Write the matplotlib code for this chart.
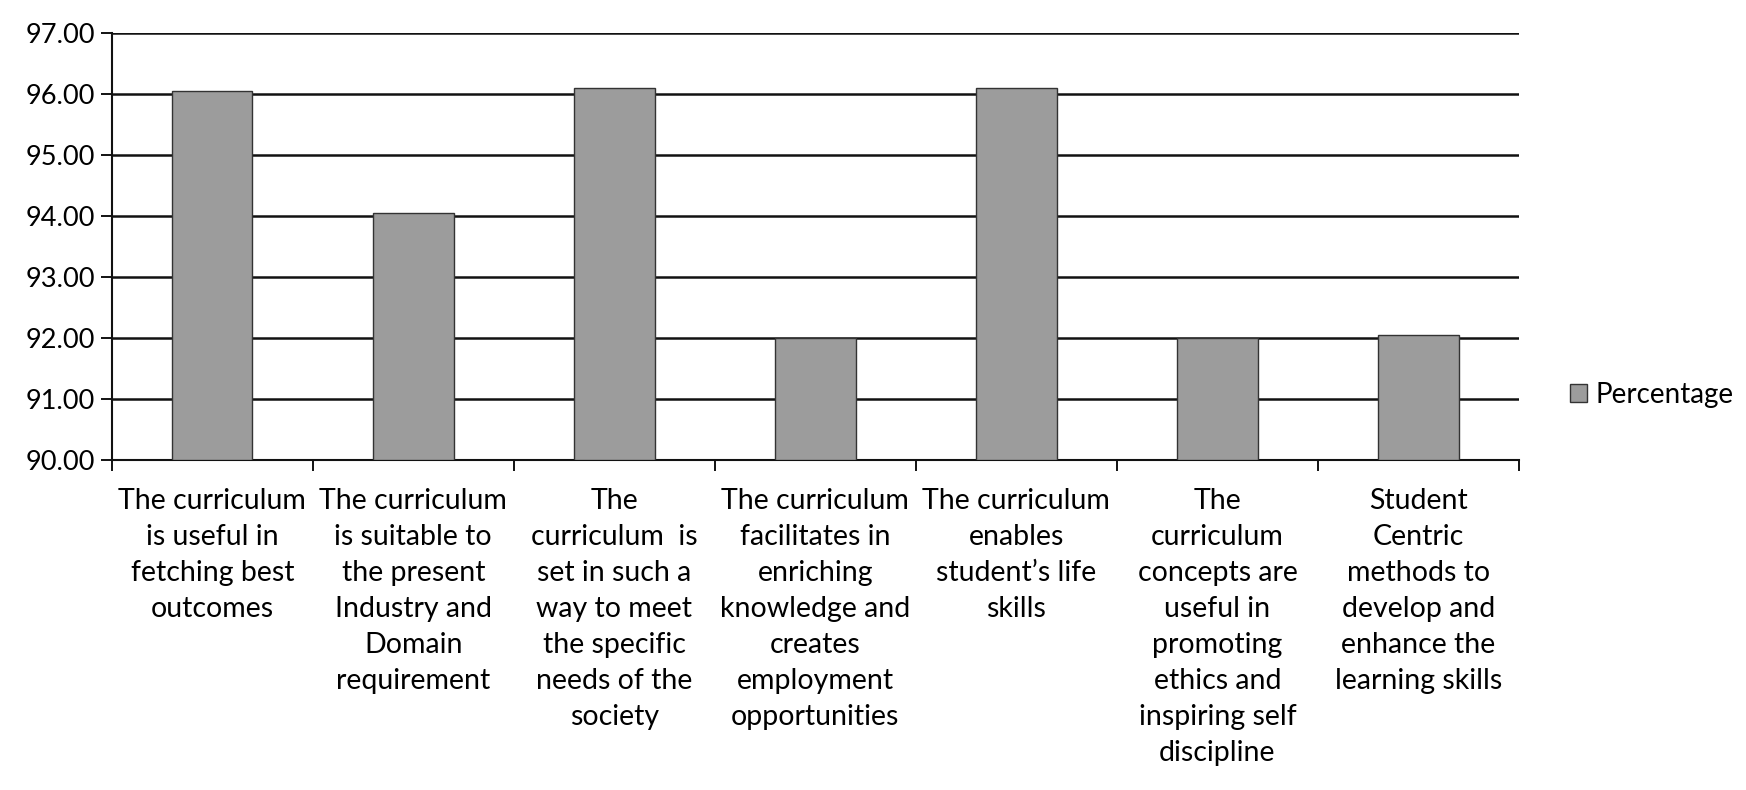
import numpy as np
import matplotlib.pyplot as plt

plt.rcParams['font.family'] = ['Lato', 'DejaVu Sans']

# survey statements (category labels, wrapped as on the chart)
categories = [
    "The curriculum\nis useful in\nfetching best\noutcomes",
    "The curriculum\nis suitable to\nthe present\nIndustry and\nDomain\nrequirement",
    "The\ncurriculum  is\nset in such a\nway to meet\nthe specific\nneeds of the\nsociety",
    "The curriculum\nfacilitates in\nenriching\nknowledge and\ncreates\nemployment\nopportunities",
    "The curriculum\nenables\nstudent\u2019s life\nskills",
    "The\ncurriculum\nconcepts are\nuseful in\npromoting\nethics and\ninspiring self\ndiscipline",
    "Student\nCentric\nmethods to\ndevelop and\nenhance the\nlearning skills",
]
percentage = [96.05, 94.05, 96.1, 92.0, 96.1, 92.0, 92.05]
yticks = [90, 91, 92, 93, 94, 95, 96, 97]

fig = plt.figure(figsize=(17.46, 7.90), dpi=100)
ax = fig.add_axes([0.064, 0.418, 0.806, 0.54])

x = np.arange(len(categories))
ax.bar(x, np.array(percentage) - 90, bottom=90, width=0.4,
       color='#9c9c9c', edgecolor='#333333', linewidth=1.0,
       label='Percentage', zorder=3)

ax.set_ylim(90, 97)
ax.set_xlim(-0.5, len(categories) - 0.5)
ax.set_yticks(yticks)
ax.set_yticklabels([f"{v:.2f}" for v in yticks], fontsize=19.5)
ax.yaxis.grid(True, color='#111111', linewidth=1.8)
ax.set_axisbelow(True)

# category labels centred, tick marks between categories
ax.set_xticks(x)
ax.set_xticklabels(categories, fontsize=20.5, linespacing=1.48)
ax.tick_params(axis='x', length=0, pad=20)
ax.set_xticks(np.arange(-0.5, len(categories)), minor=True)
ax.tick_params(axis='x', which='minor', length=8, width=1.3, direction='out')
ax.tick_params(axis='y', length=8, width=1.3, direction='out', pad=4)

for s in ['top', 'right']:
    ax.spines[s].set_visible(False)
for s in ['left', 'bottom']:
    ax.spines[s].set_linewidth(1.5)
    ax.spines[s].set_color('#111111')

fig.legend(loc='center left', bbox_to_anchor=(0.885, 0.5), frameon=False,
           fontsize=20, handlelength=0.6, handleheight=0.6, handletextpad=0.3)

fig.savefig('out.png', dpi=100)
